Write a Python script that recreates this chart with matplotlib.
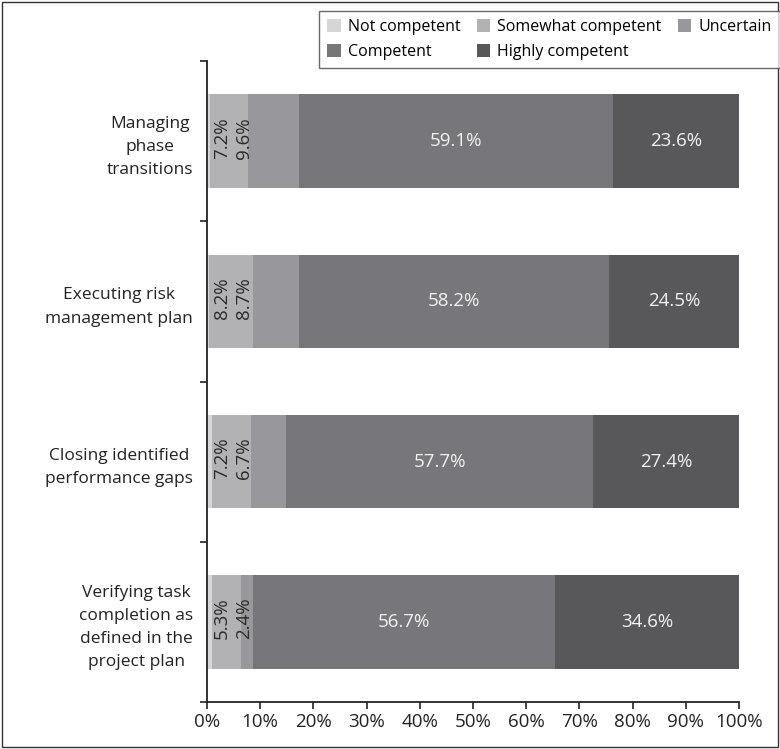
import matplotlib
matplotlib.use("Agg")
import matplotlib.pyplot as plt
from matplotlib.patches import Rectangle
import numpy as np

plt.rcParams['font.family'] = ['Open Sans', 'DejaVu Sans']

categories = [
    "Managing\nphase\ntransitions",
    "Executing risk\nmanagement plan",
    "Closing identified\nperformance gaps",
    "Verifying task\ncompletion as\ndefined in the\nproject plan",
]
series_names = ["Not competent", "Somewhat competent", "Uncertain", "Competent", "Highly competent"]
not_competent = [0.5, 0.4, 1.0, 1.0]
somewhat_competent = [7.2, 8.2, 7.2, 5.3]
uncertain = [9.6, 8.7, 6.7, 2.4]
competent = [59.1, 58.2, 57.7, 56.7]
highly_competent = [23.6, 24.5, 27.4, 34.6]
x_ticks = list(range(0, 101, 10))
x_tick_labels = [f"{t}%" for t in x_ticks]

colors = ["#d6d6d8", "#b2b2b5", "#98989c", "#77777b", "#58585a"]
series = [not_competent, somewhat_competent, uncertain, competent, highly_competent]

FS = 13.5

fig = plt.figure(figsize=(7.8, 7.49), dpi=100)
ax = fig.add_axes([207 / 780, 1 - 702 / 749, (739 - 207) / 780, (702 - 61) / 749])

y = np.arange(len(categories))
left = np.zeros(len(categories))
bars = []
for name, vals, col in zip(series_names, series, colors):
    b = ax.barh(y, vals, left=left, height=0.585, color=col, label=name, edgecolor='none')
    bars.append(b)
    vals = np.array(vals)
    for i, v in enumerate(vals):
        if name == "Competent" or name == "Highly competent":
            ax.text(left[i] + v / 2, y[i], f"{v:.1f}%", ha='center', va='center',
                    color='#f2f2f2', fontsize=FS)
    left = left + vals

small_label_x = [2.8, 7.0]
for i in range(len(categories)):
    ax.text(small_label_x[0], y[i] - 0.02, f"{somewhat_competent[i]:.1f}%", rotation=90,
            ha='center', va='center', color='#2a2a2a', fontsize=FS)
    ax.text(small_label_x[1], y[i] - 0.02, f"{uncertain[i]:.1f}%", rotation=90,
            ha='center', va='center', color='#2a2a2a', fontsize=FS)

ax.set_xlim(0, 100)
ax.set_ylim(len(categories) - 0.5, -0.5)
ax.set_xticks(x_ticks)
ax.set_xticklabels(x_tick_labels, fontsize=FS, color='#222222')
ax.set_yticks(y)
ax.set_yticklabels(categories, fontsize=12.5, color='#222222')
for t in ax.get_yticklabels():
    t.set_multialignment('center')
    t.set_linespacing(1.6)
ax.set_yticks(np.arange(-0.5, len(categories), 1.0), minor=True)
ax.tick_params(axis='y', which='major', length=0, pad=10)
ax.tick_params(axis='y', which='minor', length=5, width=1.2, color='#222222', direction='out')
ax.tick_params(axis='x', which='major', length=5, width=1.2, color='#222222', direction='out', pad=3)
for s in ['top', 'right']:
    ax.spines[s].set_visible(False)
for s in ['left', 'bottom']:
    ax.spines[s].set_color('#222222')
    ax.spines[s].set_linewidth(1.3)

handles = [bars[0], bars[3], bars[1], bars[4], bars[2]]
labels = [series_names[0], series_names[3], series_names[1], series_names[4], series_names[2]]
leg = fig.legend(handles, labels, loc='upper right', bbox_to_anchor=(779.5 / 780, 1 - 11 / 749),
                 ncol=3, fontsize=11.5, frameon=True, fancybox=False, edgecolor='#444444',
                 handlelength=0.85, handleheight=0.85, handletextpad=0.45, columnspacing=1.0,
                 labelspacing=0.55, borderpad=0.5, borderaxespad=0)
leg.get_frame().set_linewidth(1.0)

fig.patches.append(Rectangle((2 / 780, 2 / 749), 1 - 4 / 780, 1 - 4 / 749, transform=fig.transFigure,
                             fill=False, edgecolor='#333333', linewidth=1.0))

fig.savefig("out.png", dpi=100)
